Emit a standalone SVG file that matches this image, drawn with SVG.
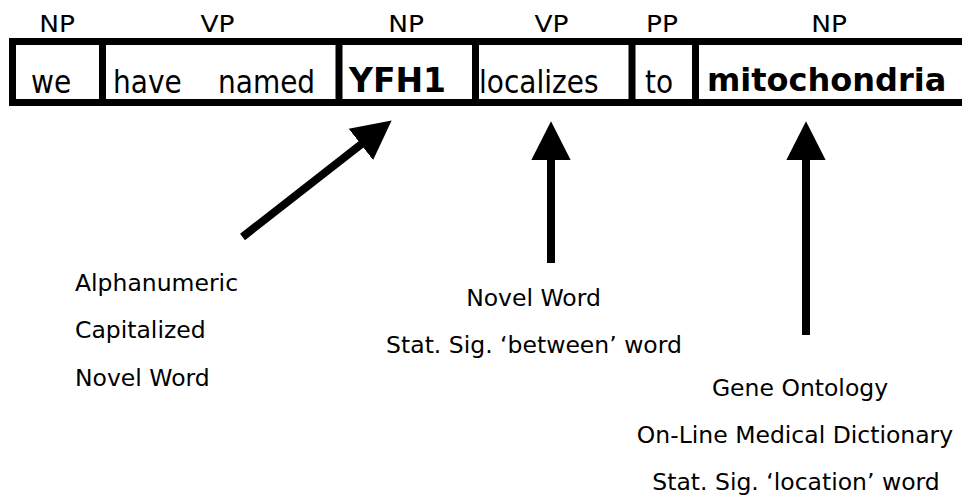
<svg xmlns="http://www.w3.org/2000/svg" width="962" height="500" viewBox="0 0 962 500">
<style>
text{font-family:"DejaVu Sans","Liberation Sans",sans-serif;fill:#000}
.lab{font-size:23px;text-anchor:middle}
.w{font-size:32px}
.b{font-size:32px;font-weight:bold}
.ann{font-size:23.5px}
.mid{text-anchor:middle}
.frame{stroke:#000;stroke-width:7;fill:none}
.arr{stroke:#000;stroke-width:8;fill:none;marker-end:url(#head)}
</style>
<defs>
<marker id="head" markerUnits="userSpaceOnUse" markerWidth="42" markerHeight="42" viewBox="0 -21 42 42" refX="1" refY="0" orient="auto">
<path d="M0,-19.8 L39,0 L0,19.8 Z" fill="#000"/>
</marker>
</defs>
<g id="frame">
<path class="frame" d="M962,41.5 H12.5 V102.5 H962"/>
<path class="frame" d="M102.5,41.5 V102.5 M339,41.5 V102.5 M475.5,41.5 V102.5 M632,41.5 V102.5 M695.5,41.5 V102.5"/>
</g>
<g id="labels">
<text class="lab" transform="translate(57,32) scale(1.15,1)">NP</text>
<text class="lab" transform="translate(217.5,32) scale(1.15,1)">VP</text>
<text class="lab" transform="translate(406,32) scale(1.15,1)">NP</text>
<text class="lab" transform="translate(551.5,32) scale(1.15,1)">VP</text>
<text class="lab" transform="translate(662,32) scale(1.15,1)">PP</text>
<text class="lab" transform="translate(829,32) scale(1.15,1)">NP</text>
</g>
<g id="word-we"><text class="w" transform="translate(31,92.5) scale(0.875,1)">we</text></g>
<g id="word-have-named"><text class="w" transform="translate(113,92.5) scale(0.875,1)">have</text><text class="w" transform="translate(218,92.5) scale(0.875,1)">named</text></g>
<g id="word-yfh1"><text class="b" x="349" y="91.5" style="font-size:33px">YFH1</text></g>
<g id="word-localizes"><text class="w" transform="translate(479,92.5) scale(0.875,1)">localizes</text></g>
<g id="word-to"><text class="w" transform="translate(645,92.5) scale(0.875,1)">to</text></g>
<g id="word-mitochondria"><text class="b" x="707" y="91">mitochondria</text></g>
<g id="connectors">
<line class="arr" x1="242.5" y1="237" x2="361.7" y2="143.8"/>
<line class="arr" x1="551" y1="263" x2="551" y2="159.3"/>
<line class="arr" x1="806" y1="335" x2="806" y2="159.3"/>
</g>
<g id="ann-yfh1">
<text class="ann" x="75" y="290.5">Alphanumeric</text>
<text class="ann" x="75" y="337.5">Capitalized</text>
<text class="ann" x="75" y="385.5">Novel Word</text>
</g>
<g id="ann-localizes">
<text class="ann mid" x="533.5" y="306">Novel Word</text>
<text class="ann mid" x="534" y="353">Stat. Sig. ‘between’ word</text>
</g>
<g id="ann-mitochondria">
<text class="ann mid" x="800" y="396">Gene Ontology</text>
<text class="ann mid" x="795" y="443">On-Line Medical Dictionary</text>
<text class="ann mid" x="796" y="490">Stat. Sig. ‘location’ word</text>
</g>
</svg>
